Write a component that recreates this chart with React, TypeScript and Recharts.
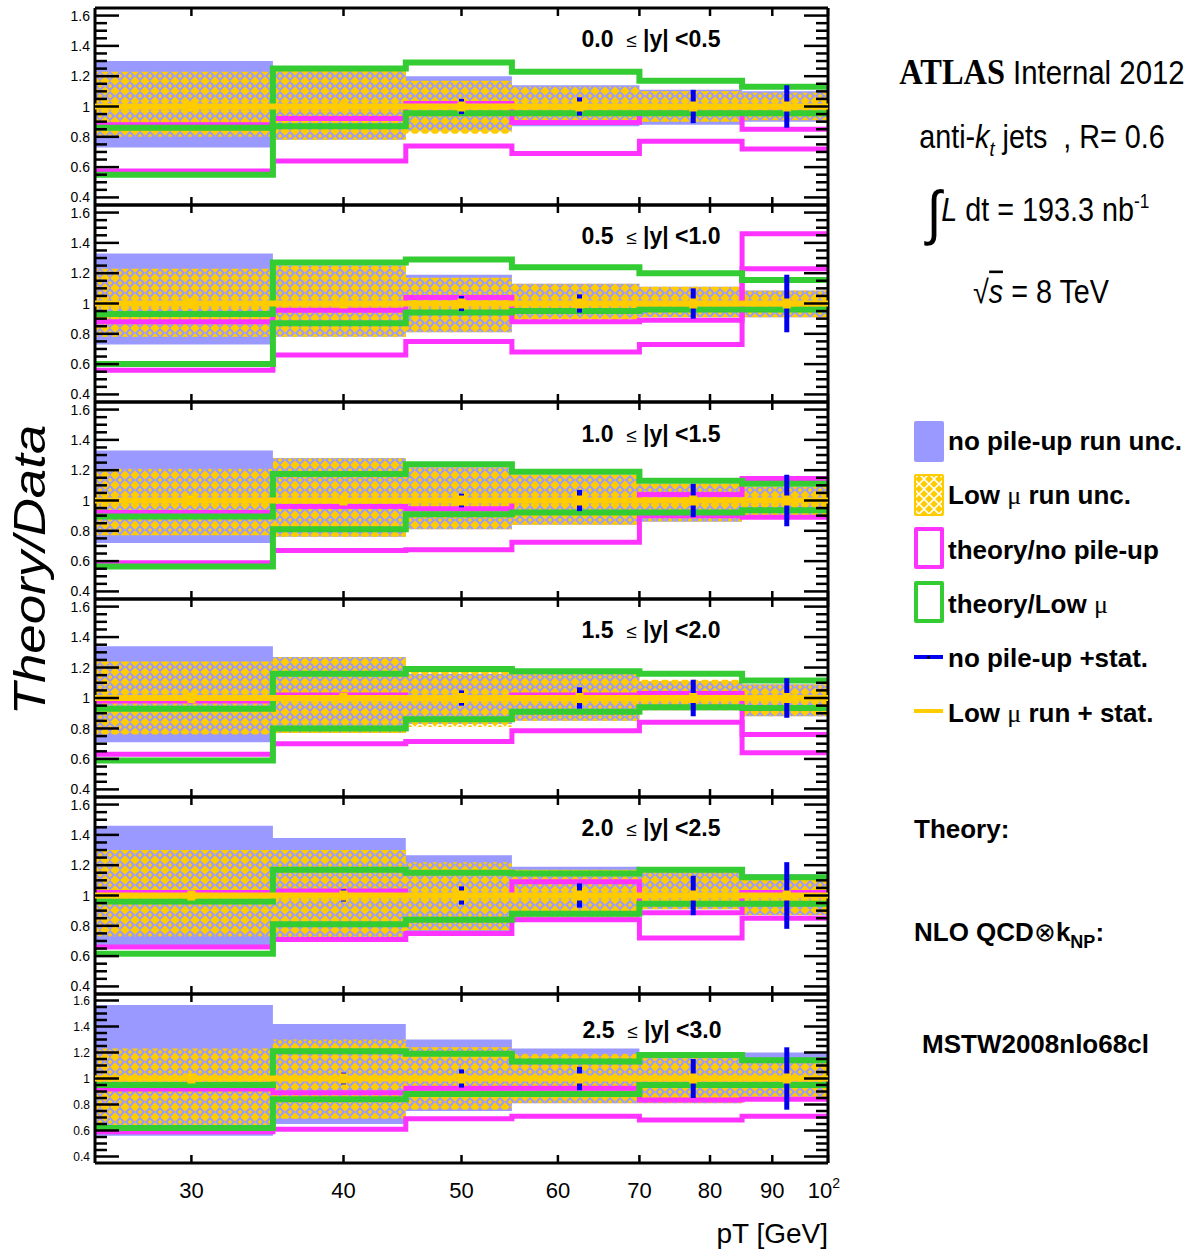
import React from 'react';
import { ComposedChart, Area, Line, Scatter, ErrorBar, XAxis, YAxis } from 'recharts';

// pT bins [GeV] and their centres
const binEdges = [25, 35, 45, 55, 70, 85, 100];
const binCenters = [30, 40, 50, 62.5, 77.5, 92.5];
const rapidityLabels = [
  ['0.0', '0.5'], ['0.5', '1.0'], ['1.0', '1.5'],
  ['1.5', '2.0'], ['2.0', '2.5'], ['2.5', '3.0'],
];
const xTicks = [30, 40, 50, 60, 70, 80, 90, 100];
const yMajorTicks = [0.4, 0.6, 0.8, 1, 1.2, 1.4, 1.6];
const yMinorTicks = [0.4, 0.45, 0.5, 0.55, 0.6, 0.65, 0.7, 0.75, 0.8, 0.85, 0.9, 0.95, 1,
  1.05, 1.1, 1.15, 1.2, 1.25, 1.3, 1.35, 1.4, 1.45, 1.5, 1.55, 1.6];

// one row per rapidity bin, one value per pT bin
const noPileupUncHi = [
  [1.30, 1.25, 1.20, 1.14, 1.11, 1.10],
  [1.33, 1.25, 1.19, 1.13, 1.11, 1.085],
  [1.33, 1.28, 1.22, 1.17, 1.11, 1.09],
  [1.34, 1.27, 1.16, 1.17, 1.11, 1.09],
  [1.46, 1.38, 1.265, 1.19, 1.17, 1.14],
  [1.565, 1.42, 1.30, 1.23, 1.20, 1.20],
];
const noPileupUncLo = [
  [0.73, 0.78, 0.84, 0.87, 0.88, 0.90],
  [0.73, 0.78, 0.81, 0.90, 0.91, 0.91],
  [0.72, 0.76, 0.81, 0.84, 0.86, 0.89],
  [0.71, 0.77, 0.83, 0.85, 0.92, 0.88],
  [0.65, 0.715, 0.76, 0.85, 0.91, 0.87],
  [0.56, 0.65, 0.75, 0.81, 0.81, 0.86],
];
const lowMuUncHi = [
  [1.23, 1.24, 1.17, 1.13, 1.10, 1.09],
  [1.23, 1.25, 1.17, 1.13, 1.11, 1.085],
  [1.21, 1.28, 1.22, 1.17, 1.11, 1.09],
  [1.24, 1.27, 1.17, 1.17, 1.12, 1.09],
  [1.30, 1.30, 1.22, 1.17, 1.16, 1.13],
  [1.23, 1.30, 1.24, 1.19, 1.155, 1.12],
];
const lowMuUncLo = [
  [0.80, 0.78, 0.82, 0.88, 0.90, 0.91],
  [0.78, 0.78, 0.81, 0.88, 0.91, 0.91],
  [0.77, 0.76, 0.81, 0.84, 0.86, 0.89],
  [0.76, 0.77, 0.81, 0.85, 0.92, 0.88],
  [0.73, 0.72, 0.77, 0.85, 0.91, 0.87],
  [0.64, 0.69, 0.76, 0.81, 0.81, 0.86],
];
const theoryNoPileupHi = [
  [0.88, 0.92, 1.02, 0.895, 0.955, 0.85],
  [0.88, 0.955, 1.04, 0.88, 0.89, 1.46],
  [0.92, 0.96, 0.945, 1.0, 1.04, 1.145],
  [0.98, 1.02, 1.0, 1.02, 1.03, 0.76],
  [1.02, 1.03, 1.0, 1.09, 0.886, 1.02],
  [0.92, 0.89, 0.925, 0.925, 0.835, 0.84],
];
const theoryNoPileupLo = [
  [0.575, 0.64, 0.74, 0.69, 0.77, 0.72],
  [0.56, 0.66, 0.75, 0.68, 0.73, 1.23],
  [0.59, 0.67, 0.675, 0.725, 0.90, 0.89],
  [0.63, 0.70, 0.715, 0.785, 0.84, 0.64],
  [0.66, 0.71, 0.75, 0.84, 0.72, 0.85],
  [0.59, 0.61, 0.69, 0.71, 0.68, 0.71],
];
const theoryLowMuHi = [
  [0.86, 1.25, 1.29, 1.23, 1.17, 1.13],
  [0.93, 1.27, 1.29, 1.24, 1.20, 1.155],
  [0.895, 1.175, 1.24, 1.19, 1.13, 1.11],
  [0.93, 1.16, 1.19, 1.175, 1.16, 1.115],
  [0.96, 1.17, 1.15, 1.145, 1.17, 1.12],
  [0.95, 1.21, 1.19, 1.13, 1.18, 1.14],
];
const theoryLowMuLo = [
  [0.55, 0.87, 0.955, 0.955, 0.955, 0.955],
  [0.60, 0.87, 0.94, 0.95, 0.96, 0.96],
  [0.565, 0.81, 0.91, 0.92, 0.92, 0.935],
  [0.59, 0.80, 0.86, 0.91, 0.94, 0.935],
  [0.615, 0.81, 0.84, 0.88, 0.945, 0.945],
  [0.62, 0.84, 0.88, 0.88, 0.95, 0.95],
];
const noPileupStatErr = [
  [0.03, 0.03, 0.05, 0.06, 0.11, 0.14],
  [0.03, 0.03, 0.05, 0.06, 0.10, 0.19],
  [0.03, 0.03, 0.045, 0.07, 0.11, 0.17],
  [0.03, 0.03, 0.05, 0.07, 0.12, 0.13],
  [0.03, 0.04, 0.06, 0.08, 0.13, 0.22],
  [0.03, 0.045, 0.07, 0.09, 0.15, 0.24],
];
const dataRatio = [1, 1, 1, 1, 1, 1];

const BAND = '#9999ff';
const ORANGE = '#ffcc00';
const MAG = '#ff33ff';
const GRN = '#33cc33';
const STAT = '#0000ee';
const SANS = '"Liberation Sans", Arial, Helvetica, sans-serif';
const SERIF = '"Liberation Serif", "Times New Roman", serif';

const panelTop = [8, 205, 402, 599, 797, 994];
const panelBottom = [205, 402, 599, 797, 994, 1163];
const labelDy = [31, 31, 32, 31, 31, 36];

const frame = { stroke: '#000', strokeWidth: 3 };
const isMajor = (v: number) => yMajorTicks.some(m => Math.abs(m - v) < 1e-6);

function buildRows(p: number) {
  return binEdges.map((x, i) => {
    const b = Math.min(i, 5);
    return {
      x,
      band: [noPileupUncLo[p][b], noPileupUncHi[p][b]],
      hatch: [lowMuUncLo[p][b], lowMuUncHi[p][b]],
      magHi: theoryNoPileupHi[p][b],
      magLo: theoryNoPileupLo[p][b],
      grnHi: theoryLowMuHi[p][b],
      grnLo: theoryLowMuLo[p][b],
      lowMu: dataRatio[b],
    };
  });
}

function buildStat(p: number) {
  return binCenters.map((x, i) => ({ x, y: dataRatio[i], err: noPileupStatErr[p][i] }));
}

// inward tick marks, labels only where asked
const leftTick = (fs: number) => (props: any) => {
  const { x, y, payload } = props;
  const v = payload.value;
  const major = isMajor(v);
  return (
    <g>
      <line x1={x} x2={x + (major ? 24 : 12)} y1={y} y2={y} stroke="#000" strokeWidth={2.5} />
      {major && (
        <text x={x - 5} y={y} dy="0.36em" textAnchor="end" fontSize={fs} fontFamily={SANS} fill="#000">
          {v === 1 ? '1' : v.toFixed(1)}
        </text>
      )}
    </g>
  );
};

const rightTick = (props: any) => {
  const { x, y, payload } = props;
  const major = isMajor(payload.value);
  return <line x1={x} x2={x - (major ? 24 : 12)} y1={y} y2={y} stroke="#000" strokeWidth={2.5} />;
};

const topTick = (props: any) => {
  const { x, y } = props;
  return <line x1={x} x2={x} y1={y} y2={y + 8} stroke="#000" strokeWidth={2.5} />;
};

const bottomTick = (withLabel: boolean) => (props: any) => {
  const { x, y, payload } = props;
  const v = payload.value;
  return (
    <g>
      <line x1={x} x2={x} y1={y} y2={y - 8} stroke="#000" strokeWidth={2.5} />
      {withLabel && (v === 100 ? (
        <text x={x - 4} y={y + 35} textAnchor="middle" fontSize={22} fontFamily={SANS} fill="#000">
          10<tspan dy={-10} fontSize={14}>2</tspan>
        </text>
      ) : (
        <text x={x} y={y + 35} textAnchor="middle" fontSize={22} fontFamily={SANS} fill="#000">{v}</text>
      ))}
    </g>
  );
};

const statDot = (props: any) => <circle cx={props.cx} cy={props.cy} r={1.5} fill="#000" />;
const lowMuMark = (props: any) => (
  <rect x={props.cx - 4} y={props.cy - 5} width={8} height={10} fill={ORANGE} />
);

function Panel({ p }: { p: number }) {
  const last = p === 5;
  const plotH = panelBottom[p] - panelTop[p];
  const h = plotH + 2 + (last ? 50 : 2);
  const fs = last ? 12 : 14;
  const rows = buildRows(p);
  const stat = buildStat(p);
  const xCommon = {
    dataKey: 'x', type: 'number' as const, scale: 'log' as const, domain: [25, 100],
    allowDataOverflow: true, ticks: xTicks, interval: 0 as const, tickSize: 0, tickMargin: 0,
    tickLine: false, axisLine: frame,
  };
  const yCommon = {
    type: 'number' as const, domain: [0.35, 1.65], allowDataOverflow: true, interval: 0 as const,
    ticks: yMinorTicks, tickSize: 0, tickMargin: 0, tickLine: false, axisLine: frame,
  };
  return (
    <div style={{ position: 'absolute', left: 0, top: panelTop[p] - 2 }}>
      <ComposedChart width={850} height={h} data={rows}
        margin={{ top: 2, right: 22, bottom: last ? 0 : 2, left: 0 }}>
        <defs>
          <pattern id={`hatch${p}`} width={10} height={10} patternUnits="userSpaceOnUse">
            <path d="M5 0.2 L9.8 5 L5 9.8 L0.2 5 Z" fill={ORANGE} />
            <path d="M0 0 H2.5 L0 2.5 Z M10 0 V2.5 L7.5 0 Z M0 10 V7.5 L2.5 10 Z M10 10 H7.5 L10 7.5 Z" fill={ORANGE} />
          </pattern>
        </defs>
        {last ? (
          <XAxis xAxisId="b" {...xCommon} orientation="bottom" height={50} tick={bottomTick(true)} />
        ) : (
          <XAxis xAxisId="b" {...xCommon} orientation="bottom" mirror height={10} tick={bottomTick(false)} />
        )}
        <XAxis xAxisId="t" {...xCommon} orientation="top" mirror height={10} tick={topTick} />
        <YAxis yAxisId="l" {...yCommon} width={95} tick={leftTick(fs)} />
        <YAxis yAxisId="r" {...yCommon} orientation="right" mirror width={10} tick={rightTick} />

        <Area xAxisId="b" yAxisId="l" type="stepAfter" dataKey="band" stroke="none" fill={BAND}
          fillOpacity={1} dot={false} activeDot={false} isAnimationActive={false} />
        <Area xAxisId="b" yAxisId="l" type="stepAfter" dataKey="hatch" stroke="none" fill={`url(#hatch${p})`}
          fillOpacity={1} dot={false} activeDot={false} isAnimationActive={false} />
        <Line xAxisId="b" yAxisId="l" type="stepAfter" dataKey="magHi" stroke={MAG} strokeWidth={5}
          dot={false} activeDot={false} isAnimationActive={false} />
        <Line xAxisId="b" yAxisId="l" type="stepAfter" dataKey="magLo" stroke={MAG} strokeWidth={5}
          dot={false} activeDot={false} isAnimationActive={false} />
        <Line xAxisId="b" yAxisId="l" type="stepAfter" dataKey="grnHi" stroke={GRN} strokeWidth={6}
          dot={false} activeDot={false} isAnimationActive={false} />
        <Line xAxisId="b" yAxisId="l" type="stepAfter" dataKey="grnLo" stroke={GRN} strokeWidth={6}
          dot={false} activeDot={false} isAnimationActive={false} />
        <Scatter xAxisId="b" yAxisId="l" data={stat} dataKey="y" shape={statDot} isAnimationActive={false}>
          <ErrorBar dataKey="err" direction="y" width={0} strokeWidth={5} stroke={STAT} isAnimationActive={false} />
        </Scatter>
        <Line xAxisId="b" yAxisId="l" type="linear" dataKey="lowMu" stroke={ORANGE} strokeWidth={6}
          dot={false} activeDot={false} isAnimationActive={false} zIndex={700} />
        <Scatter xAxisId="b" yAxisId="l" data={stat} dataKey="y" shape={lowMuMark}
          isAnimationActive={false} zIndex={710} />
      </ComposedChart>
    </div>
  );
}

function At({ x, y, children, style, center }: any) {
  return (
    <div style={{
      position: 'absolute', left: x, top: y, whiteSpace: 'nowrap', lineHeight: 1,
      transform: center ? 'translate(-50%, -50%)' : 'translateY(-50%)', ...style,
    }}>{children}</div>
  );
}

const mu = <span style={{ fontFamily: SERIF, fontWeight: 'normal' }}>μ</span>;

export default function App() {
  const legendText = { fontFamily: SANS, fontWeight: 'bold' as const, fontSize: 26, color: '#000' };
  const info = { fontFamily: SANS, fontSize: 25, color: '#000' };
  return (
    <div style={{ position: 'absolute', left: 0, top: 0, width: 1195, height: 1257, background: '#fff', fontFamily: SANS }}>
      {[0, 1, 2, 3, 4, 5].map(p => <Panel key={p} p={p} />)}

      {rapidityLabels.map(([lo, hi], p) => (
        <At key={p} x={p === 5 ? 652 : 651} y={panelTop[p] + labelDy[p]} center
          style={{ fontFamily: SANS, fontWeight: 'bold', fontSize: 23 }}>
          {lo}{'\u00a0 '}<span style={{ fontWeight: 'normal', fontSize: 19 }}>≤</span>{' |y| <'}{hi}
        </At>
      ))}

      <At x={30} y={570} center style={{ transform: 'translate(-50%, -50%) rotate(-90deg) scaleX(1.2)' }}>
        <span style={{ fontFamily: SANS, fontStyle: 'italic', fontSize: 44 }}>Theory/Data</span>
      </At>
      <div style={{ position: 'absolute', right: 1195 - 828, top: 1220, fontSize: 28, fontFamily: SANS, lineHeight: 1 }}>
        pT [GeV]
      </div>

      <At x={1042} y={73} center style={{ transform: 'translate(-50%, -50%) scale(1.2, 1.35)' }}>
        <span style={{ fontFamily: SERIF, fontWeight: 'bold', fontSize: 27 }}>ATLAS</span>
        <span style={{ ...info, fontSize: 24.5 }}> Internal 2012</span>
      </At>
      <At x={1042} y={140} center style={{ ...info, transform: 'translate(-50%, -50%) scale(1.15, 1.3)' }}>
        anti-<i>k</i><sub style={{ fontSize: 16 }}><i>t</i></sub> jets{'\u00a0 '}, R= 0.6
      </At>
      <At x={1038} y={212} center style={{ ...info, transform: 'translate(-50%, -50%) scale(1.15, 1.3)' }}>
        <span style={{ fontSize: 46, verticalAlign: 'middle' }}>∫</span><i>L</i> dt = 193.3 nb<sup style={{ fontSize: 15 }}>-1</sup>
      </At>
      <At x={1041} y={292} center style={{ ...info, transform: 'translate(-50%, -50%) scale(1.15, 1.3)' }}>
        √<i style={{ borderTop: '2px solid #000' }}>s</i> = 8 TeV
      </At>

      {/* legend */}
      <div style={{ position: 'absolute', left: 914, top: 421, width: 30, height: 41, background: BAND, borderRadius: 2 }} />
      <svg style={{ position: 'absolute', left: 914, top: 474 }} width={30} height={42}>
        <defs>
          <pattern id="legHatch" width={10} height={10} patternUnits="userSpaceOnUse">
            <path d="M0 5 L5 0 L10 5 L5 10 Z" fill="none" stroke="#fff" strokeWidth={1.6} />
          </pattern>
        </defs>
        <rect x={0} y={0} width={30} height={42} fill={ORANGE} rx={2} />
        <rect x={2} y={2} width={26} height={38} fill="url(#legHatch)" />
      </svg>
      <div style={{ position: 'absolute', left: 914, top: 527, width: 22, height: 34, border: `4px solid ${MAG}`, borderRadius: 2 }} />
      <div style={{ position: 'absolute', left: 914, top: 581, width: 22, height: 34, border: `4px solid ${GRN}`, borderRadius: 2 }} />
      <div style={{ position: 'absolute', left: 914, top: 655, width: 29, height: 4, background: STAT }} />
      <div style={{ position: 'absolute', left: 927, top: 656, width: 3, height: 3, background: '#000', borderRadius: 2 }} />
      <div style={{ position: 'absolute', left: 914, top: 709, width: 29, height: 4, background: ORANGE }} />

      <At x={948} y={441} style={legendText}>no pile-up run unc.</At>
      <At x={948} y={495} style={legendText}>Low {mu} run unc.</At>
      <At x={948} y={550} style={legendText}>theory/no pile-up</At>
      <At x={948} y={604} style={legendText}>theory/Low {mu}</At>
      <At x={948} y={658} style={legendText}>no pile-up +stat.</At>
      <At x={948} y={713} style={legendText}>Low {mu} run + stat.</At>

      <At x={914} y={829} style={legendText}>Theory:</At>
      <At x={914} y={935} style={legendText}>
        NLO QCD<span style={{ fontFamily: SERIF, fontWeight: 'normal' }}>⊗</span>k<sub style={{ fontSize: 18 }}>NP</sub>:
      </At>
      <At x={922} y={1044} style={legendText}>MSTW2008nlo68cl</At>
    </div>
  );
}
